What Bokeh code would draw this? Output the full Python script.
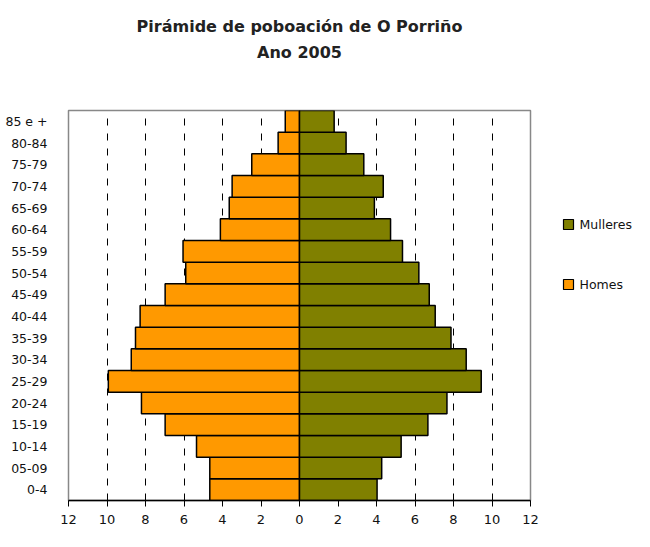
from bokeh.plotting import figure
from bokeh.layouts import row
from bokeh.models import (FactorRange, Range1d, FixedTicker, CustomJSTickFormatter,
                          Title, ColumnDataSource)
from bokeh.core.properties import value
from bokeh.embed import file_html
from bokeh.resources import INLINE

age_groups = ["0-4", "05-09", "10-14", "15-19", "20-24", "25-29", "30-34", "35-39",
              "40-44", "45-49", "50-54", "55-59", "60-64", "65-69", "70-74", "75-79",
              "80-84", "85 e +"]
homes = [4.66, 4.66, 5.35, 6.98, 8.21, 9.93, 8.74, 8.52, 8.28, 6.98, 5.91, 6.05,
         4.11, 3.65, 3.50, 2.48, 1.11, 0.74]
mulleres = [4.03, 4.27, 5.28, 6.67, 7.66, 9.44, 8.66, 7.87, 7.05, 6.74, 6.20, 5.35,
            4.73, 3.89, 4.35, 3.34, 2.42, 1.80]
x_ticks = [-12, -10, -8, -6, -4, -2, 0, 2, 4, 6, 8, 10, 12]
title_main = "Pirámide de poboación de O Porriño"
title_sub = "Ano 2005"
legend_labels = ["Mulleres", "Homes"]
COL_M, COL_H = "#808000", "#FF9900"

FONT = "DejaVu Sans"
W_MAIN, W_LEG, H = 540, 94, 531
FL, FR, FT, FB = 68, 530, 110, 500   # frame edges in canvas pixels

src = ColumnDataSource(dict(age=age_groups,
                            homes_left=[-v for v in homes],
                            zero=[0] * len(age_groups),
                            mulleres=mulleres))

p = figure(width=W_MAIN, height=H, output_backend="svg", toolbar_location=None,
           y_range=FactorRange(factors=age_groups, range_padding=0),
           x_range=Range1d(-12, 12),
           min_border_left=FL, min_border_right=W_MAIN - FR, min_border_top=FT,
           min_border_bottom=H - FB)

p.hbar(y="age", left="homes_left", right="zero", height=1.0, source=src,
       fill_color=COL_H, line_color="black", line_width=1.5)
p.hbar(y="age", left="zero", right="mulleres", height=1.0, source=src,
       fill_color=COL_M, line_color="black", line_width=1.5)

# titles: spacer nearest the frame, then subtitle, then main title
p.add_layout(Title(text=" ", text_font=FONT, text_font_size="10px", standoff=36), "above")
p.add_layout(Title(text=title_sub, align="center", text_font=FONT,
                   text_font_size="16px", text_font_style="bold",
                   text_color="#222222", standoff=0), "above")
p.add_layout(Title(text=title_main, align="center", text_font=FONT,
                   text_font_size="16px", text_font_style="bold",
                   text_color="#222222", standoff=10), "above")

p.outline_line_color = "#888888"
p.outline_line_width = 1.5
p.background_fill_color = "white"
p.border_fill_color = "white"

# x axis
p.xaxis.ticker = FixedTicker(ticks=x_ticks)
p.xaxis.formatter = CustomJSTickFormatter(code="return Math.abs(tick).toString();")
p.xaxis.axis_line_color = "black"
p.xaxis.axis_line_width = 1.5
p.xaxis.major_tick_line_color = "black"
p.xaxis.major_tick_out = 6
p.xaxis.major_tick_in = 0
p.xaxis.minor_tick_line_color = None
p.xaxis.major_label_text_font = FONT
p.xaxis.major_label_text_font_size = "13px"
p.xaxis.major_label_text_color = "#111111"
p.xaxis.major_label_standoff = 8

# y axis
p.yaxis.axis_line_color = None
p.yaxis.major_tick_line_color = None
p.yaxis.minor_tick_line_color = None
p.yaxis.major_label_text_font = FONT
p.yaxis.major_label_text_font_size = "12.5px"
p.yaxis.major_label_text_color = "#111111"
p.yaxis.major_label_standoff = 15

# grid
p.ygrid.grid_line_color = None
p.xgrid.grid_line_color = "black"
p.xgrid.grid_line_dash = "7 8"
p.xgrid.grid_line_width = 1

# legend panel (small figure to the right; its frame is aligned with the main frame,
# so its y range is set to the main frame's pixel rows)
leg = figure(width=W_LEG, height=H, output_backend="svg", toolbar_location=None,
             x_range=Range1d(0, W_LEG), y_range=Range1d(FB, FT),
             min_border=0, min_border_left=0, min_border_right=0,
             min_border_top=0, min_border_bottom=0)
leg.axis.visible = False
leg.grid.visible = False
leg.outline_line_color = None
leg.background_fill_color = "white"
leg.border_fill_color = "white"

leg_src = ColumnDataSource(dict(label=legend_labels, color=[COL_M, COL_H],
                                yc=[224, 284]))
leg.rect(x=28, y="yc", width=10, height=10, source=leg_src,
         fill_color="color", line_color="black", line_width=1.2)
leg.text(x=39, y="yc", text="label", source=leg_src, text_baseline="middle",
         text_align="left", text_font=value(FONT), text_font_size="12.5px",
         text_color="#111111")

layout = row(p, leg, spacing=0)
open("out.html", "w").write(file_html(layout, INLINE))
